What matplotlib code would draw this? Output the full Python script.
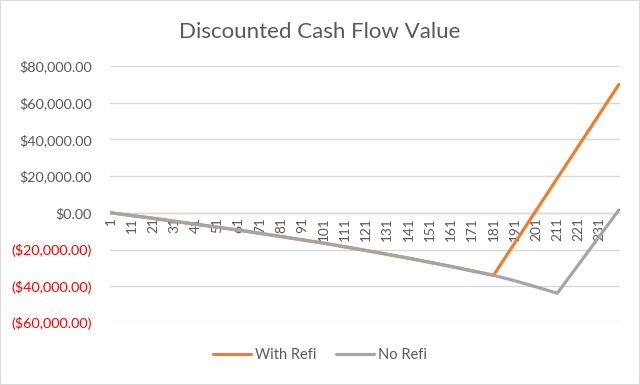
import matplotlib
matplotlib.use("Agg")
import matplotlib.pyplot as plt
from matplotlib.ticker import FuncFormatter
from matplotlib.patches import Rectangle

# Data (category period -> discounted value)
no_refi_periods = [1, 21, 41, 61, 81, 101, 121, 141, 161, 181, 191, 201, 211, 240]
no_refi_values = [0, -3000, -6200, -9400, -12900, -16500, -20500, -24700, -29200,
                  -34000, -37000, -40300, -43800, 1600]
with_refi_periods = [1, 21, 41, 61, 81, 101, 121, 141, 161, 181, 240]
with_refi_values = [0, -3000, -6200, -9400, -12900, -16500, -20500, -24700, -29200,
                    -34000, 70000]
n_periods = 240
tick_labels = [str(i) for i in range(1, n_periods + 1, 10)]
title = "Discounted Cash Flow Value"

plt.rcParams['font.family'] = ['Lato', 'DejaVu Sans']

fig = plt.figure(figsize=(6.4, 3.85), dpi=100)
ax = fig.add_axes([110/640, 1-323/385, 510/640, (323-66)/385])

orange = '#ED7D31'
gray = '#A5A5A5'

ax.plot(with_refi_periods, with_refi_values, color=orange, lw=2.3,
        solid_capstyle='round', label='With Refi', zorder=3)
ax.plot(no_refi_periods, no_refi_values, color=gray, lw=2.3,
        solid_capstyle='round', label='No Refi', zorder=4)

for s in ['top', 'right', 'left']:
    ax.spines[s].set_visible(False)
ax.spines['bottom'].set_position(('data', 0))
ax.spines['bottom'].set_color('#D9D9D9')
ax.spines['bottom'].set_linewidth(1)

ax.set_xlim(0.5, n_periods + 0.5)
ax.set_ylim(-60000, 80000)
ax.set_yticks(range(-60000, 80001, 20000))
ax.grid(axis='y', color='#D9D9D9', lw=1)
ax.set_axisbelow(True)

def fmt(v, pos):
    if v < 0:
        return "(${:,.2f})".format(-v)
    return "${:,.2f}".format(v)

ax.yaxis.set_major_formatter(FuncFormatter(fmt))
ax.tick_params(axis='y', length=0, pad=13, labelsize=10.4, labelcolor='#595959')
for lbl, v in zip(ax.get_yticklabels(), ax.get_yticks()):
    if v < 0:
        lbl.set_color('#FF0000')

ax.set_xticks(range(1, n_periods + 1, 10))
ax.set_xticklabels(tick_labels)
ax.tick_params(axis='x', length=0, pad=3, labelsize=9.8, labelcolor='#595959',
               labelrotation=90)

fig.text(0.5, 1-32/385, title, ha='center', va='center', fontsize=16, color='#595959')

leg = fig.legend(loc='center', bbox_to_anchor=(0.5, 1-355/385), ncol=2, frameon=False,
                 fontsize=10.5, handlelength=2.6, handletextpad=0.3, columnspacing=1.3)
for t in leg.get_texts():
    t.set_color('#595959')

fig.patches.append(Rectangle((0, 0), 1, 1, transform=fig.transFigure, fill=False,
                             edgecolor='#D9D9D9', lw=1.5))

fig.savefig('out.png', dpi=100, facecolor='white')
